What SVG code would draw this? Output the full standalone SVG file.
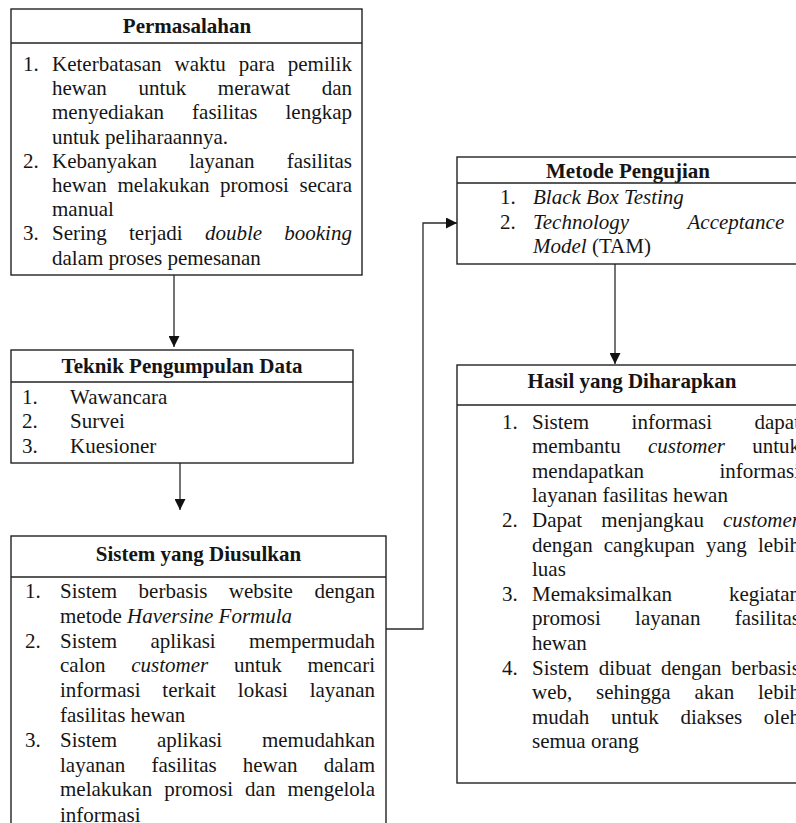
<svg xmlns="http://www.w3.org/2000/svg" width="796" height="823" viewBox="0 0 796 823">
<style>
.box{fill:#fff;stroke:#222;stroke-width:1.4}
.div{stroke:#222;stroke-width:1.4}
.t{font-family:"Liberation Serif","Times New Roman",serif;font-size:21px;fill:#151515}
.b{font-weight:bold}
.i{font-style:italic}
.c{text-anchor:middle}
.con{fill:none;stroke:#2a2a2a;stroke-width:1.3}
</style>
<defs>
<marker id="ah" markerUnits="userSpaceOnUse" markerWidth="11" markerHeight="11" refX="11" refY="5.5" orient="auto">
<path d="M0,0 L11,5.5 L0,11 Z" fill="#111"/>
</marker>
</defs>
<rect width="796" height="823" fill="#fff"/>

<g id="connectors">
<path class="con" d="M174,275 V347" marker-end="url(#ah)"/>
<path class="con" d="M180,441 V510" marker-end="url(#ah)"/>
<path class="con" d="M386,629 H423 V223 H457" marker-end="url(#ah)"/>
<path class="con" d="M615,264 V364" marker-end="url(#ah)"/>
</g>

<g id="permasalahan">
<rect class="box" x="11" y="9" width="351" height="266"/>
<line class="div" x1="11" y1="43" x2="362" y2="43"/>
<text class="t b c" x="187" y="33">Permasalahan</text>
<text class="t" y="71"><tspan x="23">1.</tspan><tspan x="52">Keterbatasan</tspan><tspan x="174.5">waktu</tspan><tspan x="238.7">para</tspan><tspan x="287.8">pemilik</tspan></text>
<text class="t" y="95.2"><tspan x="52">hewan</tspan><tspan x="138.4">untuk</tspan><tspan x="217.8">merawat</tspan><tspan x="321.7">dan</tspan></text>
<text class="t" y="119.4"><tspan x="52">menyediakan</tspan><tspan x="192.1">fasilitas</tspan><tspan x="285.5">lengkap</tspan></text>
<text class="t" y="143.6"><tspan x="52">untuk peliharaannya.</tspan></text>
<text class="t" y="167.8"><tspan x="23">2.</tspan><tspan x="52">Kebanyakan</tspan><tspan x="189.2">layanan</tspan><tspan x="286.7">fasilitas</tspan></text>
<text class="t" y="192"><tspan x="52">hewan</tspan><tspan x="117.4">melakukan</tspan><tspan x="220.1">promosi</tspan><tspan x="299.5">secara</tspan></text>
<text class="t" y="216.2"><tspan x="52">manual</tspan></text>
<text class="t" y="240.4"><tspan x="23">3.</tspan><tspan x="52">Sering</tspan><tspan x="129">terjadi</tspan><tspan class="i" x="204.9">double</tspan><tspan class="i" x="284.3">booking</tspan></text>
<text class="t" y="264.6"><tspan x="52">dalam proses pemesanan</tspan></text>
</g>

<g id="teknik">
<rect class="box" x="11" y="350" width="342" height="113"/>
<line class="div" x1="11" y1="382" x2="353" y2="382"/>
<text class="t b c" x="182" y="373">Teknik Pengumpulan Data</text>
<text class="t" y="403.5"><tspan x="22">1.</tspan><tspan x="70">Wawancara</tspan></text>
<text class="t" y="428"><tspan x="22">2.</tspan><tspan x="70">Survei</tspan></text>
<text class="t" y="452.5"><tspan x="22">3.</tspan><tspan x="70">Kuesioner</tspan></text>
</g>

<g id="sistem">
<rect class="box" x="11" y="536" width="375" height="310"/>
<line class="div" x1="11" y1="577" x2="386" y2="577"/>
<text class="t b c" x="198.5" y="561">Sistem yang Diusulkan</text>
<text class="t" y="598"><tspan x="25">1.</tspan><tspan x="60">Sistem</tspan><tspan x="138.6">berbasis</tspan><tspan x="228.8">website</tspan><tspan x="314.4">dengan</tspan></text>
<text class="t" y="622.8"><tspan x="60">metode </tspan><tspan class="i">Haversine Formula</tspan></text>
<text class="t" y="647.6"><tspan x="25">2.</tspan><tspan x="60">Sistem</tspan><tspan x="150.4">aplikasi</tspan><tspan x="249">mempermudah</tspan></text>
<text class="t" y="672.4"><tspan x="60">calon</tspan><tspan class="i" x="131.2">customer</tspan><tspan x="233.9">untuk</tspan><tspan x="307.4">mencari</tspan></text>
<text class="t" y="697.2"><tspan x="60">informasi</tspan><tspan x="162.3">terkait</tspan><tspan x="237.8">lokasi</tspan><tspan x="309.7">layanan</tspan></text>
<text class="t" y="722"><tspan x="60">fasilitas hewan</tspan></text>
<text class="t" y="746.8"><tspan x="25">3.</tspan><tspan x="60">Sistem</tspan><tspan x="156.9">aplikasi</tspan><tspan x="261.9">memudahkan</tspan></text>
<text class="t" y="771.6"><tspan x="60">layanan</tspan><tspan x="151.4">fasilitas</tspan><tspan x="242.8">hewan</tspan><tspan x="323.7">dalam</tspan></text>
<text class="t" y="796.4"><tspan x="60">melakukan</tspan><tspan x="164.2">promosi</tspan><tspan x="245.1">dan</tspan><tspan x="287.5">mengelola</tspan></text>
<text class="t" y="821.5"><tspan x="60">informasi</tspan></text>
</g>

<g id="metode">
<rect class="box" x="457" y="157" width="343" height="107"/>
<line class="div" x1="457" y1="183" x2="800" y2="183"/>
<text class="t b c" x="628" y="178">Metode Pengujian</text>
<text class="t" y="204"><tspan x="500">1.</tspan><tspan class="i" x="533">Black Box Testing</tspan></text>
<text class="t" y="228.5"><tspan x="500">2.</tspan><tspan class="i" x="533">Technology</tspan><tspan class="i" x="687.5">Acceptance</tspan></text>
<text class="t" y="253"><tspan class="i" x="533">Model</tspan><tspan> (TAM)</tspan></text>
</g>

<g id="hasil">
<rect class="box" x="457" y="365" width="351" height="418"/>
<line class="div" x1="457" y1="405" x2="808" y2="405"/>
<text class="t b c" x="632" y="388">Hasil yang Diharapkan</text>
<text class="t" y="428.5"><tspan x="502">1.</tspan><tspan x="532">Sistem</tspan><tspan x="631.6">informasi</tspan><tspan x="754.5">dapat</tspan></text>
<text class="t" y="453.1"><tspan x="532">membantu</tspan><tspan class="i" x="648">customer</tspan><tspan x="752.2">untuk</tspan></text>
<text class="t" y="477.7"><tspan x="532">mendapatkan</tspan><tspan x="719.5">informasi</tspan></text>
<text class="t" y="502.3"><tspan x="532">layanan fasilitas hewan</tspan></text>
<text class="t" y="526.9"><tspan x="502">2.</tspan><tspan x="532">Dapat</tspan><tspan x="601.3">menjangkau</tspan><tspan class="i" x="723">customer</tspan></text>
<text class="t" y="551.5"><tspan x="532">dengan</tspan><tspan x="603.8">cangkupan</tspan><tspan x="706">yang</tspan><tspan x="758">lebih</tspan></text>
<text class="t" y="576.1"><tspan x="532">luas</tspan></text>
<text class="t" y="600.7"><tspan x="502">3.</tspan><tspan x="532">Memaksimalkan</tspan><tspan x="728.9">kegiatan</tspan></text>
<text class="t" y="625.3"><tspan x="532">promosi</tspan><tspan x="635.1">layanan</tspan><tspan x="734.7">fasilitas</tspan></text>
<text class="t" y="649.9"><tspan x="532">hewan</tspan></text>
<text class="t" y="674.5"><tspan x="502">4.</tspan><tspan x="532">Sistem</tspan><tspan x="598.8">dibuat</tspan><tspan x="660.9">dengan</tspan><tspan x="731.2">berbasis</tspan></text>
<text class="t" y="699.1"><tspan x="532">web,</tspan><tspan x="596">sehingga</tspan><tspan x="694.5">akan</tspan><tspan x="758">lebih</tspan></text>
<text class="t" y="723.7"><tspan x="532">mudah</tspan><tspan x="610.9">untuk</tspan><tspan x="680.4">diakses</tspan><tspan x="763.8">oleh</tspan></text>
<text class="t" y="748.3"><tspan x="532">semua orang</tspan></text>
</g>
</svg>
